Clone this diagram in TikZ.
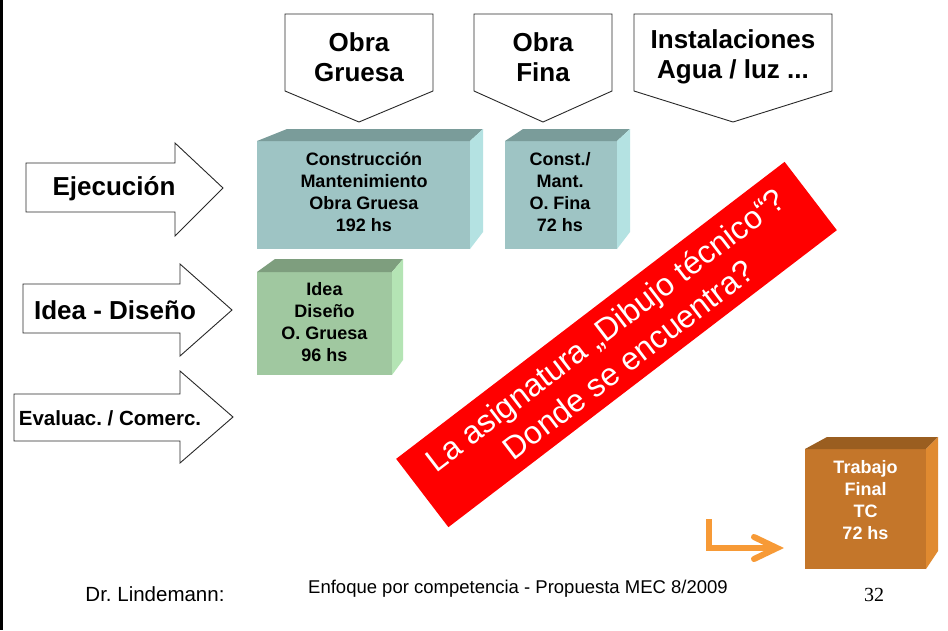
\documentclass[tikz,border=0pt]{standalone}
\usepackage{fontspec}
\setmainfont{Liberation Sans}
\newfontfamily\serifnum{Liberation Serif}
\frenchspacing
\definecolor{tealF}{RGB}{158,196,196}
\definecolor{tealT}{RGB}{122,156,154}
\definecolor{tealR}{RGB}{180,226,226}
\definecolor{greenF}{RGB}{160,200,160}
\definecolor{greenT}{RGB}{126,158,126}
\definecolor{greenR}{RGB}{180,228,180}
\definecolor{orF}{RGB}{196,118,42}
\definecolor{orT}{RGB}{154,94,32}
\definecolor{orR}{RGB}{224,138,48}
\definecolor{orArrow}{RGB}{247,154,54}
\definecolor{outl}{RGB}{40,40,40}
\begin{document}
\begin{tikzpicture}[x=1pt,y=-1pt,
  arrowshape/.style={draw=outl, line width=0.9pt, fill=white, line join=miter},
  biglabel/.style={font=\fontsize{26}{30}\selectfont\bfseries, align=center, inner sep=0},
  boxlabel/.style={font=\fontsize{18}{22}\selectfont\bfseries, align=center, inner sep=0},
  footlabel/.style={font=\fontsize{18.5}{22}\selectfont, inner sep=0}]
\useasboundingbox (0,0) rectangle (948,630);
\fill[white] (0,0) rectangle (948,630);
\fill[black] (0,0) rectangle (2.5,630);

% top down-arrows
\draw[arrowshape] (285,14) -- (433,14) -- (433,91) -- (359,122) -- (285,91) -- cycle;
\node[biglabel] (og) at (359,57) {Obra\\Gruesa};
\draw[arrowshape] (474,14) -- (612,14) -- (612,91) -- (543,122) -- (474,91) -- cycle;
\node[biglabel] (of) at (543,57) {Obra\\Fina};
\draw[arrowshape] (634,14) -- (832,14) -- (832,91) -- (733,122) -- (634,91) -- cycle;
\node[biglabel] (inst) at (733,57) {Instalaciones\\Agua / luz ...};

% left right-arrows
\draw[arrowshape] (26,163) -- (175,163) -- (175,143) -- (223,188) -- (175,236) -- (175,212) -- (26,212) -- cycle;
\node[biglabel] (ej) at (114,189) {Ejecución};
\draw[arrowshape] (23,284) -- (180,284) -- (180,264) -- (232,310) -- (180,356) -- (180,333) -- (23,333) -- cycle;
\node[biglabel] (id) at (115,310) {Idea - Diseño};
\draw[arrowshape] (14,394) -- (180,394) -- (180,371) -- (233,417) -- (180,463) -- (180,441) -- (14,441) -- cycle;
\node[biglabel, font=\fontsize{20.5}{24}\selectfont\bfseries] (ev) at (110,418) {Evaluac. / Comerc.};

% teal big box
\fill[tealF] (257,141) rectangle (470,249);
\fill[tealT] (257,141) -- (287,129) -- (483,129) -- (470,141) -- cycle;
\fill[tealR] (470,141) -- (483,129) -- (483,232) -- (470,249) -- cycle;
\node[boxlabel] (cm) at (364,192) {Construcción\\Mantenimiento\\Obra Gruesa\\192 hs};

% teal small box
\fill[tealF] (505,141) rectangle (617,249);
\fill[tealT] (505,141) -- (523,129) -- (630,129) -- (617,141) -- cycle;
\fill[tealR] (617,141) -- (630,129) -- (630,232) -- (617,249) -- cycle;
\node[boxlabel] (cf) at (560,192) {Const./\\Mant.\\O. Fina\\72 hs};

% green box
\fill[greenF] (257,272) rectangle (392,375);
\fill[greenT] (257,272) -- (275,259) -- (403,259) -- (392,272) -- cycle;
\fill[greenR] (392,272) -- (403,259) -- (403,360) -- (392,375) -- cycle;
\node[boxlabel] (idb) at (324.5,322.5) {Idea\\Diseño\\O. Gruesa\\96 hs};

% orange box
\fill[orF] (805,449) rectangle (926,569);
\fill[orT] (805,449) -- (827,437) -- (938,437) -- (926,449) -- cycle;
\fill[orR] (926,449) -- (938,437) -- (938,551) -- (926,569) -- cycle;
\node[boxlabel, text=white] (tf) at (865.5,500) {Trabajo\\Final\\TC\\72 hs};

% orange L arrow
\coordinate (la) at (709,519);
\coordinate (lb) at (777,548);
\draw[orArrow, line width=6pt, line cap=butt, line join=miter] (la) |- ([xshift=-3pt]lb);
\draw[orArrow, line width=6pt, line cap=round, line join=miter] ([xshift=-23pt,yshift=-11pt]lb) -- (lb) -- ([xshift=-23pt,yshift=11pt]lb);

% red banner
\node[fill=red, rotate=37.4, minimum width=489pt, minimum height=86pt, inner sep=0,
      text=white, align=center, font=\fontsize{32}{38}\selectfont] (banner) at (616.5,344.5)
      {La asignatura „Dibujo técnico“?\\Donde se encuentra?};

% footer
\node[footlabel, font=\fontsize{20.5}{24}\selectfont] (dr) at (155,594) {Dr. Lindemann:};
\node[footlabel] (enf) at (518,589) {Enfoque por competencia - Propuesta MEC 8/2009};
\node[footlabel, font=\fontsize{20}{24}\selectfont\serifnum] (pg) at (874,595) {32};
\end{tikzpicture}
\end{document}
